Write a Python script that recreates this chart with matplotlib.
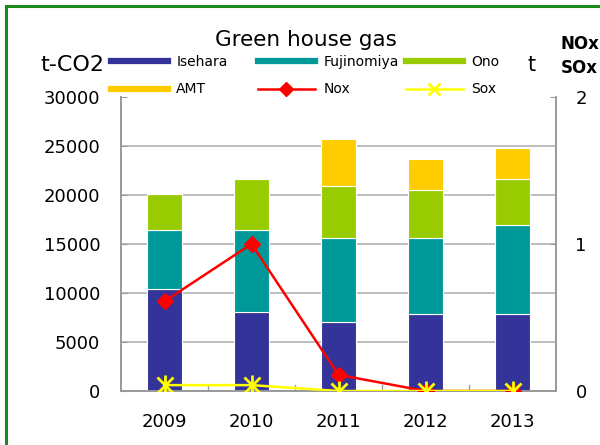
import matplotlib
matplotlib.use("Agg")
import matplotlib.pyplot as plt
from matplotlib.patches import Rectangle
from matplotlib.lines import Line2D
import numpy as np

plt.rcParams['font.family'] = ['DejaVu Sans']

years = ["2009", "2010", "2011", "2012", "2013"]
isehara = [10400, 8100, 7000, 7900, 7900]
fujinomiya = [6000, 8350, 8600, 7700, 9000]
ono = [3700, 5150, 5300, 4900, 4700]
amt = [0, 0, 4800, 3200, 3200]
nox = [0.61, 1.0, 0.11, 0.0, 0.0]
sox = [0.04, 0.04, 0.0, 0.0, 0.0]

series = [("Isehara", isehara, "#333399"),
          ("Fujinomiya", fujinomiya, "#009999"),
          ("Ono", ono, "#99CC00"),
          ("AMT", amt, "#FFCC00")]

fig = plt.figure(figsize=(6, 4.45), dpi=100)
W, H = 600, 445
ax = fig.add_axes([121 / W, 1 - 391 / H, (556 - 121) / W, (391 - 97) / H])

x = np.arange(len(years))
bottom = np.zeros(len(years))
for name, vals, col in series:
    ax.bar(x, vals, 0.41, bottom=bottom, color=col, edgecolor="white", linewidth=0.8, zorder=2)
    bottom += np.array(vals)

ax.set_xlim(-0.5, len(years) - 0.5)
ax.set_ylim(0, 30000)
ax.set_yticks(np.arange(0, 30001, 5000))
ax.set_yticklabels([str(v) for v in range(0, 30001, 5000)], fontsize=13)
ax.set_xticks(x)
ax.set_xticklabels(years, fontsize=13)
ax.tick_params(axis='x', length=0, pad=16)
ax.tick_params(axis='y', length=4, direction='in', color='#999999', pad=15)
for v in range(5000, 30000, 5000):
    ax.axhline(v, color="#b3b3b3", linewidth=1.2, zorder=1)
ax.spines['top'].set_visible(False)
for s in ['left', 'bottom', 'right']:
    ax.spines[s].set_color('#999999')
    ax.spines[s].set_linewidth(1.2)
# category separators
for b in np.arange(0.5, len(years) - 0.5, 1):
    ax.plot([b, b], [0, 600], color='#999999', linewidth=1.0, zorder=1)

ax2 = ax.twinx()
ax2.set_ylim(0, 2)
ax2.set_yticks([0, 1, 2])
ax2.set_yticklabels(["0", "1", "2"], fontsize=13)
ax2.tick_params(axis='y', length=4, direction='in', color='#999999', pad=14)
ax2.spines['top'].set_visible(False)
for s in ['left', 'bottom', 'right']:
    ax2.spines[s].set_color('#999999')
    ax2.spines[s].set_linewidth(1.2)
ax2.plot(x, nox, color="#FF0000", linewidth=1.8, marker="D", markersize=8, zorder=3)
ax2.plot(x, sox, color="#FFFF00", linewidth=1.8, marker="x", markersize=11,
         markeredgewidth=2, zorder=4)
ax2.plot(x, sox, color="#FFFF00", linewidth=0, marker="|", markersize=14,
         markeredgewidth=2, zorder=4)

# Legend: three equal-width columns
handles = [Line2D([0], [0], color="#333399", linewidth=4.5),
           Line2D([0], [0], color="#009999", linewidth=4.5),
           Line2D([0], [0], color="#99CC00", linewidth=4.5),
           Line2D([0], [0], color="#FFCC00", linewidth=4.5),
           Line2D([0], [0], color="#FF0000", linewidth=1.8, marker="D", markersize=7),
           Line2D([0], [0], color="#FFFF00", linewidth=1.8, marker="x", markersize=9, markeredgewidth=2)]
labels = ["Isehara", "Fujinomiya", "Ono", "AMT", "Nox", "Sox"]
col_x = [111, 258, 406]
for c in range(3):
    fig.legend([handles[c], handles[c + 3]], [labels[c], labels[c + 3]],
               loc='center left', bbox_to_anchor=(col_x[c] / W, 1 - 75.5 / H),
               frameon=False, fontsize=10, handlelength=4.1, handletextpad=0.6,
               labelspacing=1.0, borderpad=0, borderaxespad=0)

fig.text(306 / W, 1 - 40 / H, "Green house gas", fontsize=15.5, ha='center', va='center')
fig.text(40 / W, 1 - 65 / H, "t-CO2", fontsize=16, ha='left', va='center')
fig.text(532 / W, 1 - 65 / H, "t", fontsize=15, ha='center', va='center')
fig.text(561 / W, 1 - 44 / H, "NOx", fontsize=12, fontweight='bold', ha='left', va='center')
fig.text(561 / W, 1 - 68 / H, "SOx", fontsize=12, fontweight='bold', ha='left', va='center')

# green frame
fig.patches.append(Rectangle((6 / W, -0.1), 1.2, 1 - 6 / H + 0.1, transform=fig.transFigure,
                             fill=False, edgecolor="#1a8a1a", linewidth=2.2, zorder=10))

fig.savefig("out.png", dpi=100)
